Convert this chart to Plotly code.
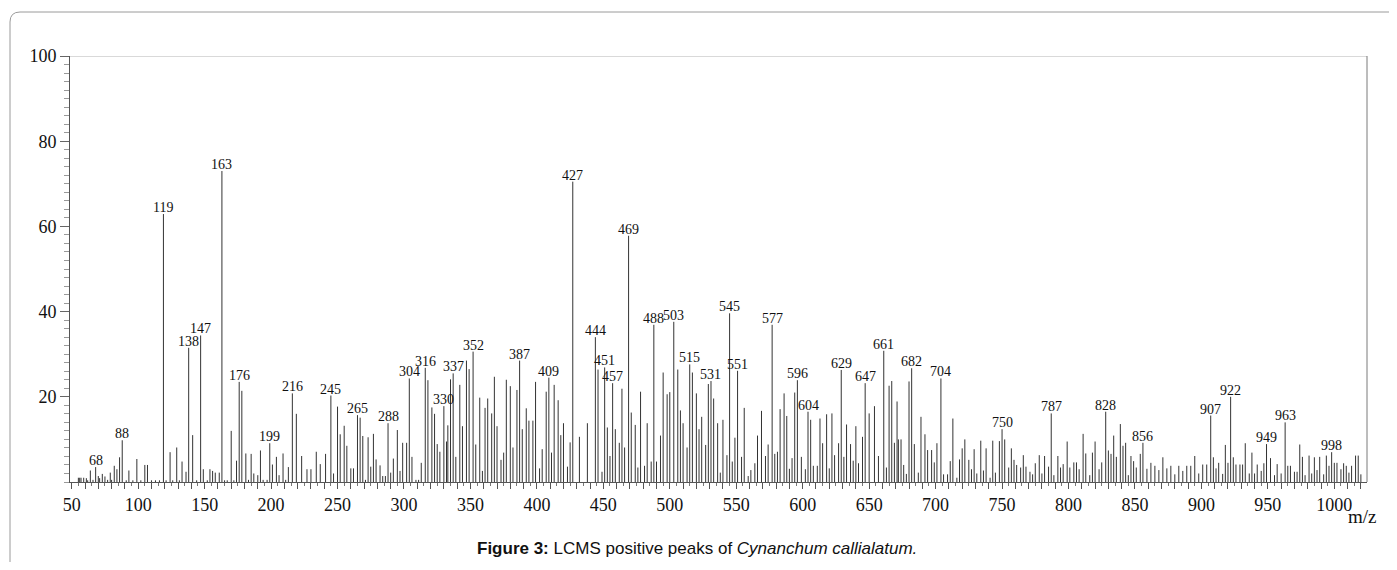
import plotly.graph_objects as go

# ---- data: m/z of each peak and its relative intensity (%) ----
mz = [55, 56, 57, 59, 61, 62, 64, 66, 68, 70, 71, 73, 75, 77, 79, 80, 82, 84, 86, 88,
      91, 93, 96, 99, 102, 105, 107, 110, 113, 116, 119, 121, 124, 126, 129, 131, 133, 136, 138, 141,
      144, 147, 149, 152, 154, 156, 158, 161, 163, 165, 167, 170, 172, 174, 176, 178, 181, 183, 185, 187,
      190, 192, 194, 197, 199, 201, 204, 206, 209, 211, 213, 216, 219, 223, 227, 230, 234, 237, 241, 245,
      247, 250, 252, 255, 257, 260, 262, 265, 267, 269, 271, 273, 275, 277, 279, 282, 284, 286, 288, 290,
      292, 295, 297, 299, 302, 304, 306, 309, 311, 313, 316, 318, 321, 323, 325, 327, 330, 332, 333, 335,
      337, 339, 342, 344, 347, 349, 352, 354, 357, 359, 361, 363, 366, 368, 370, 373, 375, 377, 380, 382,
      385, 387, 389, 392, 394, 397, 399, 402, 404, 407, 409, 411, 413, 416, 418, 420, 423, 425, 427, 432,
      438, 444, 446, 449, 451, 453, 455, 457, 459, 462, 464, 466, 469, 471, 474, 476, 478, 481, 483, 486,
      488, 490, 493, 495, 498, 500, 503, 506, 508, 510, 513, 515, 517, 520, 522, 524, 527, 529, 531, 533,
      536, 538, 540, 543, 545, 547, 549, 551, 554, 556, 559, 561, 564, 566, 569, 572, 574, 577, 579, 581,
      583, 586, 588, 590, 592, 594, 596, 599, 602, 604, 606, 608, 611, 613, 615, 618, 620, 622, 624, 627,
      629, 631, 633, 636, 638, 640, 642, 645, 647, 650, 654, 657, 661, 663, 665, 667, 669, 671, 672, 674,
      676, 678, 680, 682, 684, 687, 689, 692, 694, 697, 699, 701, 704, 706, 709, 711, 713, 716, 718, 720,
      722, 725, 727, 729, 731, 734, 736, 738, 741, 743, 745, 748, 750, 752, 755, 757, 759, 761, 764, 766,
      768, 771, 773, 775, 778, 780, 782, 785, 787, 789, 792, 794, 796, 799, 801, 804, 806, 808, 811, 813,
      816, 818, 820, 823, 825, 828, 830, 832, 834, 836, 839, 841, 843, 845, 847, 849, 851, 854, 856, 859,
      862, 865, 868, 871, 874, 877, 880, 883, 886, 889, 892, 895, 898, 901, 904, 907, 909, 911, 913, 916,
      918, 920, 922, 924, 926, 929, 931, 933, 936, 938, 940, 942, 945, 947, 949, 952, 955, 957, 960, 963,
      965, 967, 970, 972, 974, 976, 978, 981, 983, 985, 987, 989, 992, 994, 996, 998, 1000, 1002, 1005, 1007,
      1009, 1011, 1013, 1016, 1018, 1020]

intensity = [1.0, 1.0, 1.0, 1.0, 0.9, 0.4, 2.7, 0.5, 3.5, 1.4, 0.9, 1.9, 1.3, 0.5, 2.2, 0.5, 3.8, 3.0, 5.8, 9.8,
             0.4, 2.7, 0.4, 5.4, 0.4, 4.0, 4.0, 0.4, 0.4, 0.4, 62.9, 0.4, 7.0, 0.4, 8.1, 0.4, 4.8, 2.4, 31.5, 11.0,
             0.4, 34.4, 3.0, 0.4, 3.0, 2.6, 2.2, 2.2, 73.0, 0.4, 0.4, 12.0, 0.4, 5.0, 23.5, 21.4, 6.7, 0.5, 6.6, 2.0,
             1.6, 7.4, 0.5, 0.5, 9.1, 4.1, 5.9, 1.6, 6.7, 0.5, 3.5, 20.8, 16.0, 6.1, 3.0, 3.0, 7.1, 4.2, 6.6, 20.3,
             2.0, 17.7, 11.2, 13.2, 8.5, 3.2, 3.2, 15.7, 15.1, 10.8, 0.5, 10.5, 3.6, 11.3, 5.3, 3.9, 1.4, 1.4, 13.8, 2.2,
             5.5, 12.2, 2.6, 9.2, 9.2, 24.3, 5.9, 0.5, 0.5, 4.5, 26.8, 23.9, 17.5, 16.0, 8.9, 7.1, 17.8, 9.5, 13.3, 24.1,
             25.5, 5.9, 22.8, 13.1, 28.5, 26.5, 30.6, 8.8, 19.8, 2.6, 17.4, 19.6, 16.1, 24.7, 13.1, 5.2, 6.9, 24.0, 22.5, 8.1,
             21.6, 28.5, 12.4, 17.3, 14.4, 14.4, 23.5, 3.2, 7.7, 21.2, 24.5, 6.9, 22.8, 19.2, 11.0, 13.8, 3.6, 9.3, 70.5, 10.6,
             13.8, 34.0, 26.4, 2.4, 26.9, 12.8, 6.1, 23.2, 12.4, 9.2, 21.9, 8.1, 57.8, 16.3, 13.4, 3.4, 21.2, 3.8, 13.8, 4.8,
             36.9, 4.8, 10.9, 25.7, 20.6, 21.1, 37.6, 26.4, 16.8, 13.8, 8.1, 27.6, 25.7, 20.8, 12.4, 15.3, 8.7, 23.0, 23.7, 19.6,
             13.8, 2.2, 14.6, 6.3, 39.6, 4.8, 10.4, 26.1, 5.9, 17.4, 1.4, 2.8, 4.4, 10.9, 16.7, 6.1, 8.8, 36.9, 6.6, 7.1,
             17.1, 20.8, 15.5, 3.1, 5.6, 21.0, 23.9, 5.9, 3.0, 16.5, 14.6, 3.8, 3.8, 14.9, 9.1, 15.9, 3.2, 16.1, 6.3, 9.1,
             26.3, 5.9, 13.5, 8.9, 5.0, 13.1, 4.4, 10.6, 23.2, 16.1, 17.8, 6.1, 30.8, 3.4, 22.6, 23.7, 9.2, 18.9, 10.0, 10.0,
             4.0, 1.9, 23.6, 26.7, 8.9, 2.2, 15.3, 11.2, 7.5, 7.5, 4.6, 9.1, 24.3, 1.8, 1.8, 4.9, 14.9, 1.0, 5.3, 7.9,
             10.0, 5.2, 3.0, 7.7, 2.0, 9.7, 2.7, 7.9, 1.0, 9.7, 2.2, 9.6, 12.4, 10.0, 3.4, 7.9, 5.2, 4.0, 3.4, 6.3,
             3.6, 2.4, 1.8, 4.4, 6.3, 2.0, 6.1, 3.6, 16.1, 1.6, 6.1, 3.4, 4.2, 9.5, 3.4, 4.6, 4.6, 3.0, 11.3, 6.7,
             1.6, 6.9, 9.5, 3.0, 4.6, 16.5, 7.4, 6.6, 10.9, 5.9, 13.6, 8.5, 9.2, 1.6, 6.1, 4.9, 3.4, 6.6, 9.2, 3.1,
             4.5, 3.8, 2.8, 5.8, 3.2, 3.8, 1.8, 3.8, 2.6, 3.8, 3.8, 6.1, 2.0, 4.1, 4.1, 15.6, 5.8, 3.2, 4.5, 1.9,
             8.7, 4.5, 20.0, 5.8, 4.1, 4.1, 4.1, 9.1, 2.0, 6.9, 2.0, 4.1, 2.6, 4.4, 8.9, 5.6, 1.6, 4.2, 2.0, 14.0,
             3.8, 3.8, 2.4, 2.4, 8.8, 5.9, 1.6, 6.2, 2.0, 5.8, 2.8, 5.9, 1.8, 6.2, 3.8, 7.0, 4.5, 4.5, 3.0, 4.4,
             3.8, 2.2, 3.8, 6.2, 6.2, 1.8]

# peaks that carry an m/z label
labelled = [68, 88, 119, 138, 147, 163, 176, 199, 216, 245, 265, 288, 304, 316, 330, 337, 352, 387,
            409, 427, 444, 451, 457, 469, 488, 503, 515, 531, 545, 551, 577, 596, 604, 629, 647, 661,
            682, 704, 750, 787, 828, 856, 907, 922, 949, 963, 998]

x_tick_labels = [str(v) for v in range(50, 1001, 50)]
y_tick_labels = ["20", "40", "60", "80", "100"]

# ---- figure (the page body adds an 8px offset, so the figure is 16px smaller) ----
OFF = 8
W, H = 1397 - 2 * OFF, 570 - 2 * OFF
L, T = 70 - OFF, 56 - OFF
R = W - (1367 - OFF)
B = H - (482 - OFF)
pw, ph = W - L - R, H - T - B

def px_x(px):   # absolute page px -> paper x
    return (px - OFF - L) / pw

def px_y(py):   # absolute page px -> paper y
    return (H - B - (py - OFF)) / ph

xs, ys = [], []
for m, v in zip(mz, intensity):
    xs += [m, m, None]
    ys += [0, v, None]

fig = go.Figure()
fig.add_trace(go.Scatter(x=xs, y=ys, mode="lines",
                         line=dict(color="#333333", width=1),
                         hoverinfo="skip", showlegend=False))

lookup = dict(zip(mz, intensity))
annotations = []
for m in labelled:
    annotations.append(dict(x=m, y=lookup[m], xref="x", yref="y", text=str(m),
                            showarrow=False, yanchor="bottom", xanchor="center", yshift=-3,
                            font=dict(family="Liberation Serif", size=14, color="#111")))

annotations.append(dict(x=px_x(1362), y=px_y(516), xref="paper", yref="paper", text="m/z",
                        showarrow=False, xanchor="center", yanchor="middle",
                        font=dict(family="Liberation Serif", size=19, color="#111")))
annotations.append(dict(x=px_x(697), y=px_y(548), xref="paper", yref="paper",
                        text="<b>Figure 3:</b> LCMS positive peaks of <i>Cynanchum callialatum.</i>",
                        showarrow=False, xanchor="center", yanchor="middle",
                        font=dict(family="Liberation Sans", size=17, color="#111")))

# outer rounded page frame (open to the right / bottom)
fx0, fy0 = px_x(10), px_y(12)
rdx, rdy = 10 / pw, 10 / ph
frame_path = (f"M {fx0},{px_y(600)} L {fx0},{fy0 - rdy} "
              f"Q {fx0},{fy0} {fx0 + rdx},{fy0} L {px_x(1420)},{fy0}")

shapes = [
    dict(type="path", path=frame_path, xref="paper", yref="paper",
         line=dict(color="#9a9a9a", width=1)),
    dict(type="line", xref="paper", yref="y", x0=0, x1=1, y0=100, y1=100,
         line=dict(color="#cccccc", width=1.5)),
    dict(type="line", xref="paper", yref="y", x0=1, x1=1, y0=0, y1=100,
         line=dict(color="#7a7a7a", width=1)),
]

xtickvals = list(range(50, 1021, 10))
xticktext = [str(v) if v % 50 == 0 and v <= 1000 else "" for v in xtickvals]

fig.update_layout(
    width=W, height=H, autosize=False,
    margin=dict(l=L, r=R, t=T, b=B),
    paper_bgcolor="white", plot_bgcolor="white",
    annotations=annotations, shapes=shapes,
    xaxis=dict(range=[48.7, 1024.6], showgrid=False, zeroline=False,
               showline=True, linecolor="#555", linewidth=1,
               tickmode="array", tickvals=xtickvals, ticktext=xticktext,
               ticks="outside", ticklen=6, tickcolor="#555", tickwidth=1,
               minor=dict(tickmode="linear", tick0=0, dtick=5, ticks="outside",
                          ticklen=3, tickcolor="#777", tickwidth=1),
               tickfont=dict(family="Liberation Serif", size=18, color="#111")),
    yaxis=dict(range=[0, 100], showgrid=False, zeroline=False,
               showline=True, linecolor="#555", linewidth=1,
               tickmode="array", tickvals=[20, 40, 60, 80, 100], ticktext=y_tick_labels,
               ticks="outside", ticklen=9, tickcolor="#666", tickwidth=1,
               minor=dict(tickmode="linear", tick0=0, dtick=2, ticks="outside",
                          ticklen=5, tickcolor="#999", tickwidth=1),
               tickfont=dict(family="Liberation Serif", size=18, color="#111")),
)

fig.write_html("out.html")
